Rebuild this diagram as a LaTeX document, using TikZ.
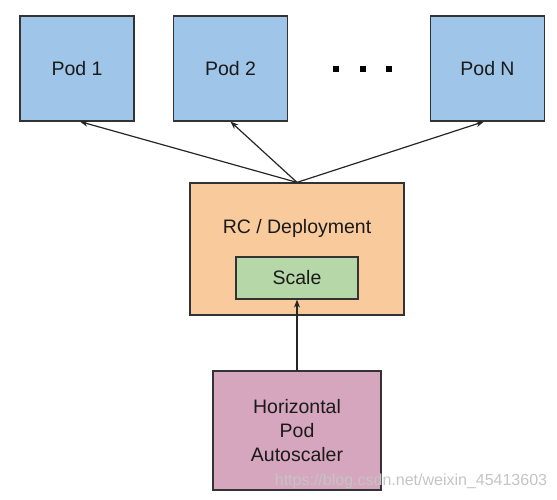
\documentclass[tikz,border=0pt]{standalone}
\usepackage{fontspec}
\setmainfont{Liberation Sans}
\usetikzlibrary{arrows.meta}
\definecolor{podblue}{HTML}{9FC5E8}
\definecolor{rcorange}{HTML}{F9CB9C}
\definecolor{scalegreen}{HTML}{B6D7A8}
\definecolor{hpapink}{HTML}{D5A6BD}
\definecolor{edge}{HTML}{333333}
\definecolor{txt}{HTML}{1A1A1A}
\definecolor{wm}{HTML}{C4C4C4}
\begin{document}
\begin{tikzpicture}[x=1pt,y=-1pt,
  box/.style={draw=edge, line width=1.2pt, rectangle, inner sep=0pt, text=txt,
    font=\fontsize{19.5}{24}\selectfont, align=center},
  pod/.style={box, fill=podblue, minimum width=114pt, minimum height=105pt},
  dotsq/.style={fill=black, rectangle, minimum size=6pt, inner sep=0pt},
  arr/.style={-{Stealth[length=8pt,width=6pt]}, line width=1.2pt, draw=black!85}
]
\useasboundingbox (0,0) rectangle (557,500);
\node[pod] (pod1) at (77,68.5) {Pod 1};
\node[pod] (pod2) at (230.5,68.5) {Pod 2};
\node[pod] (podn) at (487.5,68.5) {Pod N};
\node[dotsq] (d1) at (336,69) {};
\node[dotsq] (d2) at (363,69) {};
\node[dotsq] (d3) at (389,69) {};
\node[box, fill=rcorange, minimum width=214pt, minimum height=132pt] (rc) at (297,249) {};
\node[text=txt, font=\fontsize{19.5}{24}\selectfont, inner sep=0pt] (rctext) at (297,228) {RC / Deployment};
\node[box, fill=scalegreen, minimum width=122pt, minimum height=42pt] (scale) at (297,278) {Scale};
\node[box, fill=hpapink, minimum width=168pt, minimum height=119pt] (hpa) at (297,430.5) {Horizontal\\Pod\\Autoscaler};
\draw[arr] (rc.north) -- ([xshift=3pt]pod1.south);
\draw[arr] (rc.north) -- (pod2.south);
\draw[arr] (rc.north) -- ([xshift=-3.5pt]podn.south);
\draw[arr] (hpa.north) -- (scale.south);
\node[text=wm, font=\fontsize{16}{18}\selectfont, inner sep=0pt] (wmark) at (411,481) {https://blog.csdn.net/weixin\_45413603};
\end{tikzpicture}
\end{document}
